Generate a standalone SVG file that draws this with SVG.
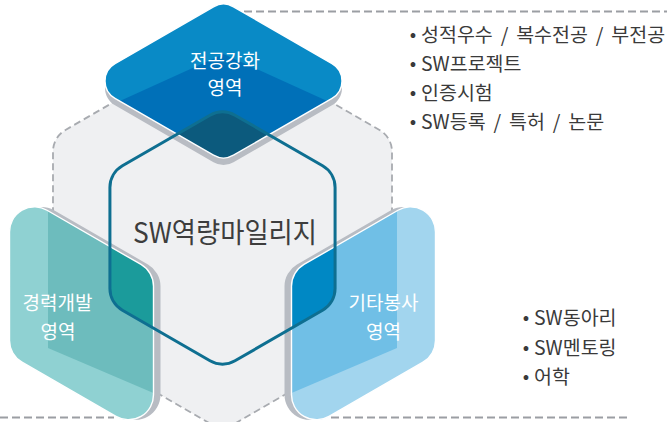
<svg xmlns="http://www.w3.org/2000/svg" width="667" height="422" viewBox="0 0 667 422">
<style>
.txt{font-family:"Noto Sans CJK KR","Noto Sans",sans-serif;}
.lbl{fill:#ffffff;font-size:19px;text-anchor:middle;}
.bul{fill:#3a3a3a;font-size:19.5px;word-spacing:3.5px;}
.dot{fill:#3a3a3a;font-size:19px;text-anchor:middle;}
.dash{fill:none;stroke:#9b9ea3;stroke-width:2;stroke-dasharray:8 4;}
.edge{fill:none;stroke:#ffffff;stroke-width:1.4;}
.shadow{fill:#b8bcc3;}
</style>
<defs>
<path id="hexC" d="M210,115.22 A25 25 0 0 1 235,115.22 L322.58,165.78 A25 25 0 0 1 335.08,187.43 L335.08,288.57 A25 25 0 0 1 322.58,310.22 L235,360.78 A25 25 0 0 1 210,360.78 L122.42,310.22 A25 25 0 0 1 109.92,288.57 L109.92,187.43 A25 25 0 0 1 122.42,165.78 Z"/>
<path id="dia" d="M213.5,6.77 A20 20 0 0 1 233.5,6.77 L332,63.68 A20 20 0 0 1 332,98.32 L233.5,155.23 A20 20 0 0 1 213.5,155.23 L115,98.32 A20 20 0 0 1 115,63.68 Z"/>
<path id="lf" d="M47,210.25 L141,264.48 A25 25 0 0 1 153.5,286.13 L153.5,394.8 A25 25 0 0 1 116,416.45 L22,362.22 A25 25 0 0 1 9.5,340.57 L9.5,231.9 A25 25 0 0 1 47,210.25 Z"/>
<path id="rf" d="M304,264.48 L398,210.25 A25 25 0 0 1 435.5,231.9 L435.5,340.57 A25 25 0 0 1 423,362.22 L329,416.45 A25 25 0 0 1 291.5,394.8 L291.5,286.13 A25 25 0 0 1 304,264.48 Z"/>
<clipPath id="cDia"><use href="#dia"/></clipPath>
<clipPath id="cL"><use href="#lf"/></clipPath>
<clipPath id="cR"><use href="#rf"/></clipPath>
</defs>

<g id="background">
<path d="M210,46.5 A25 25 0 0 1 235,46.5 L379.5,129.92 A25 25 0 0 1 392,151.57 L392,318.43 A25 25 0 0 1 379.5,340.08 L235,423.5 A25 25 0 0 1 210,423.5 L65.5,340.08 A25 25 0 0 1 53,318.43 L53,151.57 A25 25 0 0 1 65.5,129.92 Z" fill="#eff0f2" stroke="#a8abb0" stroke-width="1.8" stroke-dasharray="7 4"/>
</g>

<g id="connectors">
<line class="dash" x1="232" y1="11.5" x2="667" y2="11.5"/>
<line class="dash" x1="0" y1="417.5" x2="114" y2="417.5"/>
<line class="dash" x1="331" y1="417.5" x2="627" y2="417.5"/>
</g>

<g id="node-major">
<use href="#dia" class="shadow" transform="translate(0,7)"/>
<g clip-path="url(#cDia)">
<rect x="80" y="0" width="290" height="170" fill="#098ac6"/>
<polygon points="80,119 223.5,54 367,119 367,175 80,175" fill="#0070b8"/>
<use href="#hexC" fill="#0c5a7d"/>
</g>
<use href="#dia" class="edge"/>
<text class="txt lbl" x="225" y="68">전공강화</text>
<text class="txt lbl" x="225" y="95">영역</text>
</g>

<g id="node-career">
<use href="#lf" class="shadow" transform="translate(7,0)"/>
<g clip-path="url(#cL)">
<rect x="0" y="180" width="170" height="250" fill="#8fd1d2"/>
<polygon points="48,150 170,150 170,400 48,348" fill="#6dbcbd"/>
<use href="#hexC" fill="#1b9b9b"/>
</g>
<use href="#lf" class="edge"/>
<text class="txt lbl" x="57.5" y="310">경력개발</text>
<text class="txt lbl" x="58" y="339">영역</text>
</g>

<g id="node-service">
<use href="#rf" class="shadow" transform="translate(-7,0)"/>
<g clip-path="url(#cR)">
<rect x="275" y="180" width="170" height="250" fill="#a2d5ee"/>
<polygon points="397,150 275,150 275,400 397,348" fill="#70bfe6"/>
<use href="#hexC" fill="#0088c4"/>
</g>
<use href="#rf" class="edge"/>
<text class="txt lbl" x="383.5" y="310">기타봉사</text>
<text class="txt lbl" x="383.5" y="339">영역</text>
</g>

<g id="node-center">
<use href="#hexC" fill="none" stroke="#0e6f91" stroke-width="3"/>
<text class="txt" x="133" y="243" font-size="28" fill="#3d3d3d" textLength="184" lengthAdjust="spacingAndGlyphs">SW역량마일리지</text>
</g>

<g id="list-major">
<text class="txt dot" x="413" y="41">•</text>
<text class="txt bul" x="421" y="42">성적우수 / 복수전공 / 부전공</text>
<text class="txt dot" x="413" y="70">•</text>
<text class="txt bul" x="421" y="71">SW프로젝트</text>
<text class="txt dot" x="413" y="99">•</text>
<text class="txt bul" x="421" y="100">인증시험</text>
<text class="txt dot" x="413" y="128">•</text>
<text class="txt bul" x="421" y="129">SW등록 / 특허 / 논문</text>
</g>

<g id="list-service">
<text class="txt dot" x="526" y="324">•</text>
<text class="txt bul" x="534" y="325">SW동아리</text>
<text class="txt dot" x="526" y="354">•</text>
<text class="txt bul" x="534" y="355">SW멘토링</text>
<text class="txt dot" x="526" y="383">•</text>
<text class="txt bul" x="534" y="384">어학</text>
</g>
</svg>
